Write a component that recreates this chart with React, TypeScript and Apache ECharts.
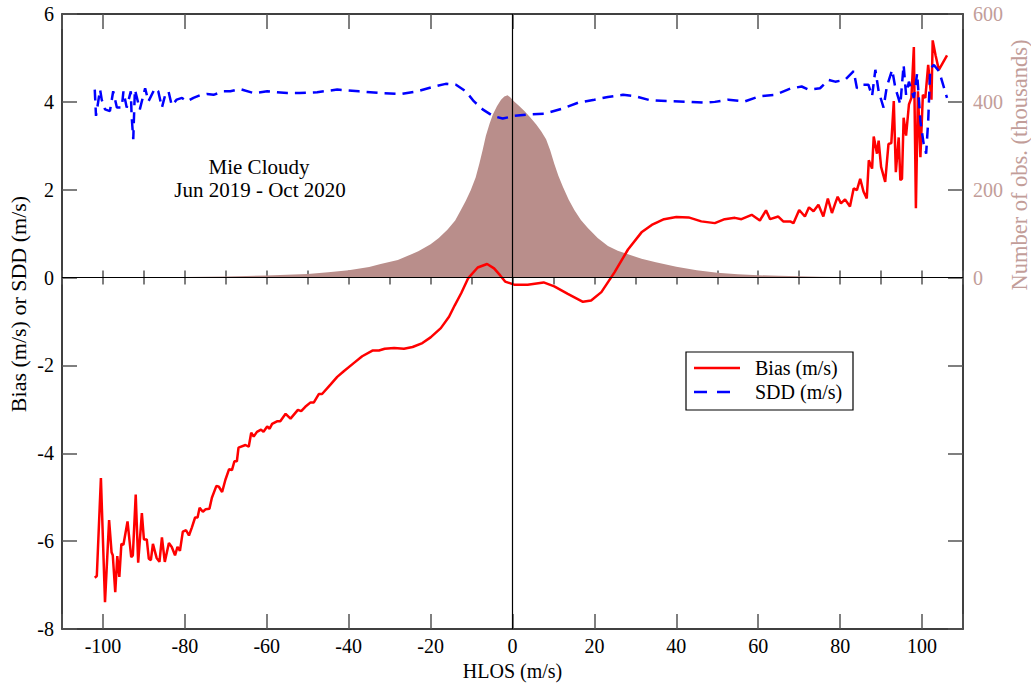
import React, { useEffect, useRef } from "react";
import * as echarts from "echarts";

// HLOS (m/s) and Bias (m/s)
const biasX = [-102.0,-101.5,-100.5,-99.5,-98.5,-97.9,-97.6,-97.0,-96.5,-96.0,
  -95.5,-95.0,-94.0,-93.1,-92.7,-92.0,-91.4,-90.5,-90.0,-89.3,
  -88.8,-88.3,-87.8,-86.9,-86.2,-85.6,-84.9,-83.9,-83.2,-82.4,
  -81.8,-81.2,-80.5,-79.7,-79.0,-78.3,-77.5,-76.9,-76.4,-75.6,
  -74.9,-74.0,-73.4,-72.3,-71.7,-70.9,-70.1,-69.2,-68.5,-67.9,
  -67.3,-66.9,-65.2,-64.4,-63.8,-63.2,-62.4,-61.4,-60.8,-59.9,
  -59.3,-58.7,-57.5,-56.7,-55.4,-54.2,-52.4,-51.6,-50.6,-49.3,
  -48.5,-47.3,-46.5,-44.4,-42.8,-41.2,-38.7,-36.7,-34.2,-32.6,
  -31.2,-28.9,-26.5,-24.4,-22.0,-20.0,-17.5,-15.5,-14.1,-12.5,
  -10.8,-8.5,-6.2,-4.5,-3.0,-1.8,0.4,3.7,7.6,10.2,
  13.5,17.2,19.2,21.7,24.9,28.2,31.5,34.0,37.0,40.0,
  43.0,46.1,49.4,51.8,54.3,55.9,58.4,60.4,61.9,62.9,
  64.9,66.1,67.8,68.6,70.0,71.4,72.4,73.5,74.7,75.9,
  77.0,78.0,78.8,79.4,80.2,81.2,82.4,83.3,84.1,84.9,
  85.7,86.5,87.0,87.8,88.2,89.0,89.4,90.0,91.0,91.8,
  92.5,93.1,93.6,94.3,94.7,95.1,95.5,96.1,96.8,97.4,
  98.0,98.5,99.0,99.6,100.2,100.8,101.5,102.3,102.6,103.3,
  104.1,106.1];
const biasY = [-6.83,-6.79,-4.56,-7.39,-5.52,-6.25,-6.32,-7.16,-6.34,-6.81,
  -6.06,-6.08,-5.55,-6.36,-6.32,-4.94,-6.49,-5.36,-5.96,-5.96,
  -6.40,-6.43,-6.06,-6.38,-6.47,-5.91,-6.47,-6.04,-6.13,-6.32,
  -6.13,-6.22,-5.78,-5.75,-5.87,-5.69,-5.46,-5.46,-5.24,-5.33,
  -5.27,-5.26,-5.01,-4.74,-4.76,-4.88,-4.60,-4.36,-4.38,-4.18,
  -4.18,-3.87,-3.81,-3.85,-3.53,-3.62,-3.51,-3.46,-3.51,-3.39,
  -3.44,-3.33,-3.27,-3.27,-3.10,-3.21,-3.01,-3.04,-2.94,-2.84,
  -2.84,-2.65,-2.65,-2.43,-2.26,-2.13,-1.94,-1.79,-1.66,-1.66,
  -1.62,-1.60,-1.62,-1.58,-1.49,-1.36,-1.15,-0.89,-0.63,-0.35,
  -0.01,0.23,0.31,0.21,0.05,-0.09,-0.16,-0.16,-0.11,-0.20,
  -0.37,-0.55,-0.52,-0.33,0.12,0.64,1.03,1.20,1.33,1.38,
  1.37,1.28,1.24,1.33,1.36,1.33,1.43,1.30,1.53,1.33,
  1.39,1.28,1.28,1.24,1.54,1.39,1.60,1.51,1.66,1.39,
  1.80,1.47,1.69,1.84,1.69,1.78,1.62,2.03,1.99,2.25,
  1.96,1.80,2.67,2.48,3.21,2.82,3.12,2.52,2.18,3.04,
  3.06,4.02,2.40,3.19,2.22,2.25,3.64,3.23,3.94,4.09,
  5.25,1.58,4.24,2.74,4.16,4.09,4.84,4.05,5.40,5.06,
  4.73,5.06];

// HLOS (m/s) and SDD (m/s)
const sddX = [-102.0,-101.7,-100.7,-100.3,-99.5,-98.3,-97.5,-96.6,-95.4,-95.0,
  -94.2,-93.2,-93.0,-92.6,-92.2,-91.0,-89.7,-88.9,-87.3,-86.5,
  -85.6,-84.8,-84.0,-83.2,-82.0,-80.7,-79.5,-77.9,-76.3,-74.6,
  -73.0,-70.6,-68.9,-66.5,-63.2,-59.9,-55.0,-52.0,-47.7,-42.8,
  -37.5,-32.2,-27.3,-23.2,-19.1,-16.3,-13.8,-11.4,-9.4,-7.3,
  -4.8,-2.4,0.4,3.7,7.8,11.9,16.0,20.0,23.3,27.0,
  29.8,33.5,37.6,43.7,47.0,49.4,52.7,56.7,60.4,64.1,
  67.8,70.6,72.3,75.1,77.2,78.8,81.2,83.3,84.1,85.3,
  86.9,87.8,88.6,89.4,90.6,91.4,92.7,93.5,94.7,95.5,
  96.1,96.8,98.0,98.8,99.6,100.4,101.0,101.5,102.0,102.9,
  104.2,106.1];
const sddY = [4.28,3.68,4.28,4.05,3.83,3.79,4.24,3.87,3.87,4.24,
  3.87,4.24,3.68,3.15,4.28,3.83,4.31,4.01,4.31,4.24,
  3.87,4.16,4.24,3.92,4.05,4.09,4.01,4.09,4.15,4.18,
  4.16,4.24,4.24,4.29,4.20,4.24,4.20,4.20,4.22,4.28,
  4.24,4.20,4.18,4.24,4.35,4.41,4.39,4.24,4.01,3.83,
  3.68,3.62,3.68,3.71,3.73,3.84,3.98,4.05,4.11,4.16,
  4.13,4.04,4.02,4.00,3.98,4.00,4.05,4.01,4.13,4.16,
  4.30,4.35,4.28,4.31,4.50,4.46,4.50,4.70,4.31,4.39,
  4.39,4.13,4.73,4.24,3.87,4.35,4.73,4.31,3.94,4.84,
  4.16,4.46,4.09,4.65,3.56,3.04,2.82,3.56,4.76,4.84,
  4.69,4.09];

// HLOS (m/s) and number of observations (thousands)
const countX = [-102,-95,-90,-85,-80,-75,-70,-65,-60,-55,
  -50,-45,-40,-35,-32.2,-28,-25.7,-23,-20,-18,
  -15.9,-14,-12.6,-11.4,-10.2,-9,-8.1,-7.3,-6.5,-5.6,
  -4.8,-3.8,-2.8,-2,-1.2,-0.5,0.4,1.5,2.9,4.3,
  5.75,7,8.2,9.2,10.2,11.2,12.3,13.7,15.1,16.7,
  18.4,20.8,23.3,25.7,28.2,31.5,35,40,45,50,
  55,60,65,70,75,80,85,90,95,100,105];
const countY = [0.1,0.2,0.4,0.7,1.2,1.8,2.6,3.6,5,6.5,
  8.5,12,17,24,31,40,49,60,76,90,
  109,130,154,175,199,228,259,290,323,350,
  371,390,405,412,415,410,401,392,379,365,
  349,333,315,290,259,232,207,178,154,131,
  113,90,72,61,53,43,35,25,17,11,
  7.5,5.5,4,3,2,1.4,1,0.6,0.4,0.2,0.1];

const seriesNames = ["Bias (m/s)", "SDD (m/s)"];
const annotation = ["Mie Cloudy", "Jun 2019 - Oct 2020"];
const xName = "HLOS (m/s)";
const yLeftName = "Bias (m/s) or SDD (m/s)";
const yRightName = "Number of obs. (thousands)";

const FONT = "'Liberation Serif', 'Times New Roman', serif";
const BROWN = "#b98e8b";
const BROWN_TXT = "#c29d99";

const pairs = (xs: number[], ys: number[]) =>
  xs.slice(0, Math.min(xs.length, ys.length)).map((x, i) => [x, ys[i]]);

export default function App() {
  const ref = useRef<HTMLDivElement>(null);
  useEffect(() => {
    if (!ref.current) return;
    const chart = echarts.init(ref.current, null, { renderer: "svg" });
    const tickStyle = { color: "#555", width: 1.5 };
    const frameLine = { show: true, onZero: false, lineStyle: { color: "#000", width: 1.5 } };
    const majorX = {
      type: "value", min: -110, max: 110, splitNumber: 11, minInterval: 20, maxInterval: 20,
      splitLine: { show: false },
    };
    const minorX = {
      type: "value", min: -110, max: 110, interval: 10,
      splitLine: { show: false }, axisLine: { show: false },
      axisLabel: { show: false },
      axisTick: { show: true, inside: true, length: 7, lineStyle: tickStyle },
    };
    chart.setOption({
      animation: false,
      backgroundColor: "#fff",
      textStyle: { fontFamily: FONT },
      grid: { left: 62, right: 68, top: 14, bottom: 49, containLabel: false },
      xAxis: [
        {
          ...majorX, position: "bottom",
          axisLine: frameLine,
          axisTick: { show: true, inside: true, length: 15, lineStyle: tickStyle },
          axisLabel: {
            formatter: (v: number) => (Math.abs(v) > 105 ? "" : String(v)),
            fontSize: 20, fontFamily: FONT, color: "#000", margin: 7,
          },
          name: xName, nameLocation: "middle", nameGap: 27,
          nameTextStyle: { fontSize: 20, fontFamily: FONT, color: "#000" },
        },
        {
          ...majorX, position: "top",
          axisLine: frameLine,
          axisTick: { show: true, inside: true, length: 15, lineStyle: tickStyle },
          axisLabel: { show: false },
        },
        { ...minorX, position: "bottom" },
        { ...minorX, position: "top" },
      ],
      yAxis: [
        {
          type: "value", min: -8, max: 6, interval: 2, position: "left",
          splitLine: { show: false },
          axisLine: frameLine,
          axisTick: { show: true, inside: true, length: 15, lineStyle: tickStyle },
          axisLabel: { fontSize: 20, fontFamily: FONT, color: "#000", margin: 8 },
        },
        {
          type: "value", min: -800, max: 600, interval: 200, position: "right",
          splitLine: { show: false },
          axisLine: frameLine,
          axisTick: { show: true, inside: true, length: 15, lineStyle: tickStyle },
          axisLabel: {
            formatter: (v: number) => (v >= 0 ? String(v) : ""),
            fontSize: 20, fontFamily: FONT, color: BROWN_TXT, margin: 10,
          },
        },
      ],
      series: [
        {
          name: "count", type: "line", xAxisIndex: 0, yAxisIndex: 1,
          data: pairs(countX, countY), symbol: "none", z: 1,
          lineStyle: { width: 0, color: BROWN },
          areaStyle: { color: BROWN, opacity: 1 },
        },
        {
          name: seriesNames[0], type: "line", xAxisIndex: 0, yAxisIndex: 0,
          data: pairs(biasX, biasY), symbol: "none", z: 3,
          lineStyle: { width: 2.5, color: "#ff0000" }, itemStyle: { color: "#ff0000" },
          markLine: {
            silent: true, symbol: ["none", "none"], label: { show: false },
            lineStyle: { color: "#000", width: 1.2, type: "solid" },
            data: [{ yAxis: 0 }, { xAxis: 0 }],
          },
        },
        {
          name: seriesNames[1], type: "line", xAxisIndex: 0, yAxisIndex: 0,
          data: pairs(sddX, sddY), symbol: "none", z: 4,
          lineStyle: { width: 2.5, color: "#0000ff", type: [11, 7] }, itemStyle: { color: "#0000ff" },
        },
      ],
      graphic: [
        {
          type: "text", x: 18, y: 304, rotation: Math.PI / 2,
          style: { text: yLeftName, fontSize: 22, fontFamily: FONT, fill: "#000", align: "center", verticalAlign: "middle" },
        },
        {
          type: "text", x: 1019, y: 165, rotation: Math.PI / 2,
          style: { text: yRightName, fontSize: 22.5, fontFamily: FONT, fill: BROWN_TXT, align: "center", verticalAlign: "middle" },
        },
        {
          type: "text", x: 259, y: 167,
          style: { text: annotation[0], fontSize: 21, fontFamily: FONT, fill: "#000", align: "center", verticalAlign: "middle" },
        },
        {
          type: "text", x: 260, y: 190,
          style: { text: annotation[1], fontSize: 21, fontFamily: FONT, fill: "#000", align: "center", verticalAlign: "middle" },
        },
        {
          type: "rect", shape: { x: 686, y: 352, width: 167, height: 58 }, z: 10,
          style: { fill: "#fff", stroke: "#000", lineWidth: 1.2 },
        },
        {
          type: "line", shape: { x1: 694, y1: 368, x2: 740, y2: 368 }, z: 11,
          style: { stroke: "#ff0000", lineWidth: 2.5 },
        },
        {
          type: "line", shape: { x1: 694, y1: 392, x2: 740, y2: 392 }, z: 11,
          style: { stroke: "#0000ff", lineWidth: 2.5, lineDash: [13, 10] },
        },
        {
          type: "text", x: 755, y: 368, z: 11,
          style: { text: seriesNames[0], fontSize: 20, fontFamily: FONT, fill: "#000", align: "left", verticalAlign: "middle" },
        },
        {
          type: "text", x: 755, y: 392, z: 11,
          style: { text: seriesNames[1], fontSize: 20, fontFamily: FONT, fill: "#000", align: "left", verticalAlign: "middle" },
        },
      ],
    });
    return () => chart.dispose();
  }, []);
  return (
    <div
      ref={ref}
      style={{ position: "fixed", left: 0, top: 0, width: 1031, height: 686, background: "#fff" }}
    />
  );
}
